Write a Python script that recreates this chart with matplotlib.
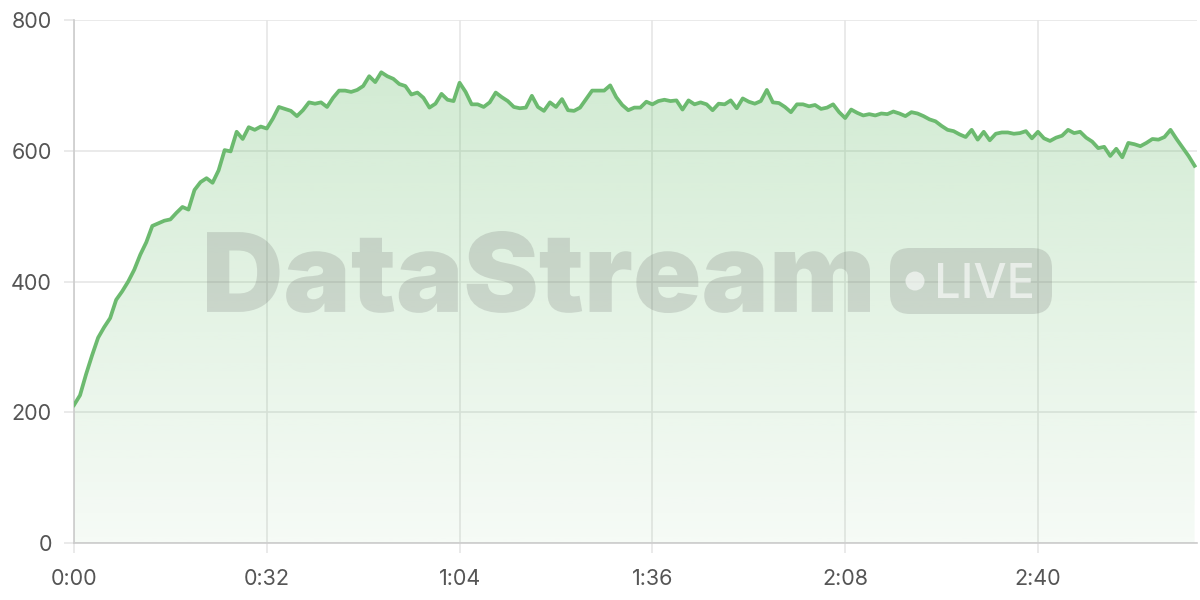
import numpy as np
import matplotlib
matplotlib.use("Agg")
import matplotlib.pyplot as plt
from matplotlib.textpath import TextPath
from matplotlib.font_manager import FontProperties
from matplotlib.patches import PathPatch, FancyBboxPatch, Circle
from matplotlib.transforms import Affine2D, IdentityTransform
from matplotlib.ticker import FuncFormatter

# one reading per second
values = [
    211, 226, 258, 287, 314, 330, 344, 372, 385, 400, 418, 441, 460, 485, 489, 493,
    495, 505, 514, 510, 540, 552, 558, 551, 570, 601, 599, 629, 618, 636, 632, 637,
    634, 649, 667, 664, 661, 653, 662, 674, 672, 674, 667, 681, 692, 692, 690, 693,
    699, 714, 705, 720, 714, 710, 702, 699, 686, 689, 681, 666, 672, 687, 678, 676,
    704, 690, 671, 671, 667, 674, 689, 682, 676, 667, 665, 666, 684, 667, 661, 674,
    667, 679, 662, 661, 666, 679, 692, 692, 692, 700, 682, 670, 662, 666, 666, 675,
    671, 676, 678, 676, 677, 663, 677, 671, 674, 671, 662, 672, 671, 677, 665, 680,
    675, 672, 676, 693, 674, 673, 667, 659, 671, 671, 668, 670, 664, 666, 671, 659,
    650, 663, 658, 654, 656, 654, 657, 656, 660, 657, 653, 659, 657, 653, 648, 645,
    638, 632, 630, 625, 621, 632, 617, 629, 616, 626, 628, 628, 626, 627, 630, 619,
    629, 619, 615, 620, 623, 632, 627, 629, 620, 614, 604, 606, 592, 603, 590, 612,
    610, 607, 612, 618, 617, 621, 632, 618, 605, 592, 577,
]
sample_step = 1.0  # seconds
t = np.arange(len(values)) * sample_step

x_ticks = [0, 32, 64, 96, 128, 160]
y_ticks = [0, 200, 400, 600, 800]

line_color = "#6cba6f"
label_color = "#555555"
grid_color = "#e6e6e6"

plt.rcParams["font.family"] = ["Inter", "DejaVu Sans"]

fig = plt.figure(figsize=(12, 6), dpi=100)
ax = fig.add_axes([74 / 1200, 57 / 600, 1123 / 1200, 523 / 600])
ax.set_xlim(0, 186.4)
ax.set_ylim(0, 800)

# gradient fill under the line
poly = ax.fill_between(t, values, 0, facecolor="none", edgecolor="none")
grad = np.zeros((256, 1, 4))
grad[:, 0, 0] = 102 / 255
grad[:, 0, 1] = 187 / 255
grad[:, 0, 2] = 106 / 255
grad[:, 0, 3] = np.linspace(0.32, 0.06, 256)
im = ax.imshow(grad, extent=[t[0], t[-1], 0, 800], origin="upper",
               aspect="auto", zorder=1)
im.set_clip_path(poly.get_paths()[0], transform=ax.transData)

ax.plot(t, values, color=line_color, lw=2.7, zorder=4, solid_joinstyle="round")

# watermark
wm_color = (0.39, 0.39, 0.39, 0.2)


def place_text(s, weight, box, **kw):
    tp = TextPath((0, 0), s, size=1, prop=FontProperties(family="Inter", weight=weight))
    ext = tp.get_extents()
    x0, y0, x1, y1 = box
    tr = (Affine2D().translate(-ext.x0, -ext.y0)
          .scale((x1 - x0) / ext.width, (y1 - y0) / ext.height)
          .translate(x0, y0))
    p = PathPatch(tr.transform_path(tp), transform=IdentityTransform(), lw=0, **kw)
    fig.add_artist(p)


place_text("DataStream", "black", (207, 600 - 313, 870, 600 - 231), color=wm_color, zorder=2)
badge = FancyBboxPatch((890 + 20, 600 - 314 + 20), 162 - 40, 66 - 40,
                       boxstyle="round,pad=20", transform=IdentityTransform(),
                       facecolor=wm_color, edgecolor="none", zorder=2)
fig.add_artist(badge)
fig.add_artist(Circle((915, 600 - 281), 9.5, transform=IdentityTransform(),
                      facecolor=(1, 1, 1, 0.6), edgecolor="none", zorder=3))
place_text("LIVE", "medium", (938, 600 - 298, 1032, 600 - 263), color=(1, 1, 1, 0.6), zorder=3)

# axes styling
ax.set_xticks(x_ticks)
ax.set_yticks(y_ticks)
ax.xaxis.set_major_formatter(FuncFormatter(lambda v, p: f"{int(v) // 60}:{int(v) % 60:02d}"))
ax.grid(True, color=grid_color, lw=1.2, zorder=0)
ax.set_axisbelow(True)
for s in ["top", "right"]:
    ax.spines[s].set_visible(False)
for s in ["left", "bottom"]:
    ax.spines[s].set_color("#cccccc")
    ax.spines[s].set_linewidth(1.2)
ax.tick_params(axis="both", colors=grid_color, length=7, width=1.2,
               labelcolor=label_color, labelsize=15.5)
ax.tick_params(axis="x", pad=12)
ax.tick_params(axis="y", pad=9)

fig.savefig("out.png", dpi=100)
